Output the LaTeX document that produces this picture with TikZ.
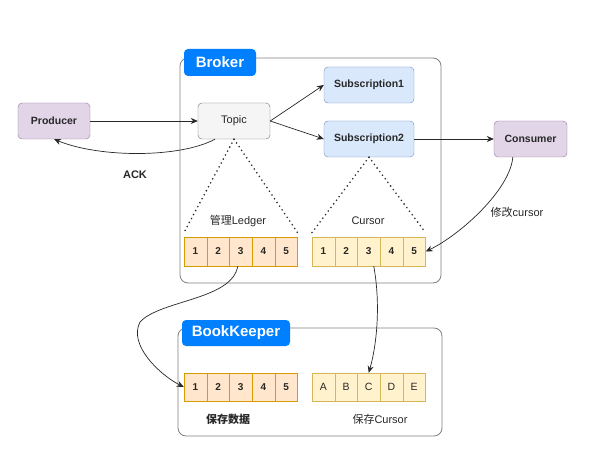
\documentclass[tikz,border=0pt]{standalone}
\usepackage{fontspec}
\setmainfont{Liberation Sans}
\newfontfamily\cjk{Noto Sans CJK SC}
\usetikzlibrary{arrows.meta, positioning}
\definecolor{tabblue}{RGB}{0,127,255}
\definecolor{purplefill}{RGB}{225,213,231}
\definecolor{purpleline}{RGB}{150,115,166}
\definecolor{bluefill}{RGB}{218,232,252}
\definecolor{blueline}{RGB}{108,142,191}
\definecolor{orangefill}{RGB}{255,230,204}
\definecolor{orangeline}{RGB}{215,155,0}
\definecolor{yellowfill}{RGB}{255,242,204}
\definecolor{yellowline}{RGB}{214,182,86}
\definecolor{ink}{RGB}{40,40,40}
\def\fs#1{\fontsize{#1}{#1}\selectfont}

\tikzset{
  box/.style={draw, rounded corners=4pt, minimum height=36pt, inner sep=0pt, text=ink, font=\fs{10.5}\bfseries},
  container/.style={draw=black!50, rounded corners=8pt, line width=0.8pt},
  tab/.style={fill=tabblue, rounded corners=4pt, text=white, minimum height=27pt, inner sep=0pt, font=\fs{15}\bfseries},
  ledgercell/.style={draw=orangeline, fill=orangefill, minimum width=22.7pt, minimum height=29pt, inner sep=0pt, text=ink, font=\fs{10}\bfseries},
  cursorcell/.style={draw=yellowline, fill=yellowfill, minimum width=22.7pt, minimum height=29pt, inner sep=0pt, text=ink, font=\fs{10}\bfseries},
  arr/.style={ink, line width=0.7pt, -{Stealth[length=7pt,width=6pt]}},
  dots/.style={ink, line width=1.8pt, dash pattern=on 0pt off 4.5pt, line cap=round},
  lbl/.style={text=ink, font=\fs{11}}
}

\begin{document}
\begin{tikzpicture}[x=1pt, y=-1pt]
\useasboundingbox (0,0) rectangle (593,454);
\fill[white] (0,0) rectangle (593,454);

% containers
\node[container, minimum width=261pt, minimum height=225pt] (broker) at (310.5,170.5) {};
\node[tab, minimum width=72pt] (brokertab) at (220,62.5) {Broker};
\node[container, minimum width=264pt, minimum height=108pt] (bk) at (310,382) {};
\node[tab, minimum width=108pt, minimum height=26pt] (bktab) at (236,333) {BookKeeper};

% boxes
\node[box, draw=purpleline, fill=purplefill, minimum width=72pt] (producer) at (54,121) {Producer};
\node[box, draw=black!55, fill=black!4, minimum width=72pt, font=\fs{11}] (topic) at (234,121) {Topic};
\node[box, draw=blueline, fill=bluefill, minimum width=90pt] (sub1) at (369,85) {Subscription1};
\node[box, draw=blueline, fill=bluefill, minimum width=90pt] (sub2) at (369,139) {Subscription2};
\node[box, draw=purpleline, fill=purplefill, minimum width=73pt] (consumer) at (530.5,139) {Consumer};

% cells
\foreach \i in {1,...,5} {
  \node[ledgercell] (led\i) at (184+22.7*\i-11.35, 251.5) {\i};
  \node[cursorcell] (cur\i) at (312+22.7*\i-11.35, 251.5) {\i};
  \node[ledgercell, minimum height=28pt] (data\i) at (184+22.7*\i-11.35, 387) {\i};
}
\foreach \c [count=\i] in {A,B,C,D,E}
  \node[cursorcell, minimum height=28pt, font=\fs{10.5}] (save\i) at (312+22.7*\i-11.35, 387) {\c};

% labels
\node[lbl, font=\fs{11}\bfseries] (ack) at (135,175) {ACK};
\node[lbl] (ledgerlbl) at (238,221) {{\cjk 管理}Ledger};
\node[lbl] (cursorlbl) at (368,221) {Cursor};
\node[lbl] (modlbl) at (517,212) {{\cjk 修改}cursor};
\node[lbl, font=\fs{11}\bfseries] (datalbl) at (228,419) {{\cjk 保存数据}};
\node[lbl] (savelbl) at (380,419) {{\cjk 保存}Cursor};

% connectors
\draw[arr] (producer) -- (topic);
\draw[arr] (topic.east) -- (sub1.west);
\draw[arr] (topic.east) -- (sub2.west);
\draw[arr] (sub2) -- (consumer);
\draw[arr] ([xshift=-19pt]topic.south) .. controls (180,158) and (100,158) .. (producer.south);
\draw[dots] (topic.south) -- ([yshift=4pt]led1.north west);
\draw[dots] (topic.south) -- ([yshift=4pt]led5.north east);
\draw[dots] (sub2.south) -- ([yshift=4pt]cur1.north west);
\draw[dots] (sub2.south) -- ([yshift=4pt]cur5.north east);
\draw[arr] ([xshift=19pt]consumer.south west) .. controls (510,190) and (460,235) .. (cur5.east);
\draw[arr] ([xshift=-3pt]led3.south) .. controls (232,300) and (160,300) .. (140,322)
  .. controls (128,345) and (160,375) .. (data1.west);
\draw[arr] ([xshift=5pt]cur3.south) .. controls (380,300) and (378,340) .. (save3.north);
\end{tikzpicture}
\end{document}
